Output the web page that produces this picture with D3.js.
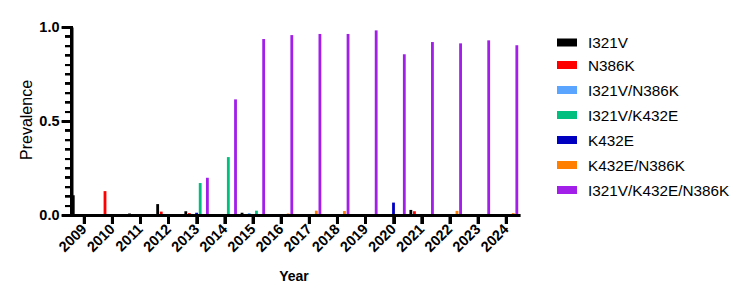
<!DOCTYPE html>
<html><head><meta charset="utf-8">
<script src="https://cdn.jsdelivr.net/npm/d3@7"></script>
<style>
html,body{margin:0;padding:0;background:#fff;}
#wrap{position:relative;width:738px;height:291px;}
#wrap svg,#wrap canvas{position:absolute;left:0;top:0;}
svg text{font-family:"Liberation Sans",Arial,sans-serif;}
</style>
</head><body>
<div id="wrap">
<svg id="chart" width="738" height="291" xmlns="http://www.w3.org/2000/svg"></svg>
<canvas id="axes" width="738" height="291"></canvas>
</div>
<script>
const years = ["2009","2010","2011","2012","2013","2014","2015","2016","2017","2018","2019","2020","2021","2022","2023","2024"];
const seriesNames = ["I321V","N386K","I321V/N386K","I321V/K432E","K432E","K432E/N386K","I321V/K432E/N386K"];
const seriesColors = ["#000000","#FF0000","#59A5FF","#00BF7F","#0000C0","#FF8000","#A11FE8"];
// order in which bars sit inside each year group
const barOrder = ["I321V","N386K","I321V/N386K","K432E","I321V/K432E","K432E/N386K","I321V/K432E/N386K"];

const valI321V       = [0.105,0,0.008,0.058,0.02,0,0.012,0,0,0,0,0,0.027,0,0,0];
const valN386K       = [0.005,0.127,0,0.018,0.01,0.003,0,0,0,0,0,0,0.02,0,0,0];
const valI321V_N386K = [0,0,0,0,0,0,0.01,0,0,0,0,0,0,0,0.005,0];
const valI321V_K432E = [0,0,0,0,0.17,0.308,0.023,0,0,0,0,0,0,0,0,0];
const valK432E       = [0,0,0,0,0.012,0,0,0,0,0,0,0.066,0,0,0,0];
const valK432E_N386K = [0,0,0,0,0,0,0,0.008,0.023,0.021,0,0,0,0.022,0.005,0.01];
const valTriple      = [0,0,0,0,0.198,0.615,0.936,0.957,0.963,0.963,0.982,0.855,0.92,0.913,0.929,0.903];
const seriesValues = [valI321V, valN386K, valI321V_N386K, valI321V_K432E, valK432E, valK432E_N386K, valTriple];

const yMajorTicks = [0, 0.5, 1.0];

const svg = d3.select("#chart");
const x0 = d3.scaleBand().domain(years).range([70, 520.1]).padding(0);
const x1 = d3.scaleBand().domain(barOrder).range([-12.6, 12.6]).paddingInner(0.22).paddingOuter(0.11);
const y = d3.scaleLinear().domain([0, 1]).range([215, 27]);
const color = d3.scaleOrdinal().domain(seriesNames).range(seriesColors);
const xc = d => x0(d) + x0.bandwidth() / 2;
const axisX = 71.5, axisY = 215;
const minorTicks = d3.range(0, 21).map(i => i * 0.05);

// SVG axes via d3 axis generators
const yMinor = svg.append("g").attr("transform", `translate(${axisX},0)`)
  .call(d3.axisLeft(y).tickValues(minorTicks).tickSize(6.5).tickSizeOuter(0).tickFormat(""));
yMinor.select(".domain").remove();
yMinor.selectAll(".tick line").attr("stroke", "#000").attr("stroke-width", 2);
const yAxis = svg.append("g").attr("transform", `translate(${axisX},0)`)
  .call(d3.axisLeft(y).tickValues(yMajorTicks).tickSize(10).tickSizeOuter(0).tickPadding(2).tickFormat(d3.format(".1f")));
yAxis.select(".domain").attr("stroke", "#000").attr("stroke-width", 3);
yAxis.selectAll(".tick line").attr("stroke", "#000").attr("stroke-width", 2.6);
yAxis.selectAll(".tick text").attr("font-size", 14.5).attr("font-weight", "bold").attr("fill", "#000")
  .attr("font-family", "Liberation Sans, Arial, sans-serif");
const xAxis = svg.append("g").attr("transform", `translate(0,${axisY})`)
  .call(d3.axisBottom(x0).tickSize(9).tickSizeOuter(0).tickFormat(""));
xAxis.select(".domain").attr("stroke", "#000").attr("stroke-width", 3);
xAxis.selectAll(".tick line").attr("stroke", "#000").attr("stroke-width", 2.6);

// bars
const data = [];
seriesNames.forEach((s, si) => {
  years.forEach((yr, yi) => data.push({series: s, year: yr, value: seriesValues[si][yi]}));
});
svg.append("g").selectAll("rect").data(data.filter(d => d.value > 0)).join("rect")
  .attr("x", d => xc(d.year) + x1(d.series))
  .attr("width", x1.bandwidth())
  .attr("y", d => y(d.value))
  .attr("height", d => y(0) - y(d.value))
  .attr("fill", d => color(d.series));

// x tick labels
svg.append("g").selectAll("text").data(years).join("text")
  .attr("transform", d => `translate(${xc(d) + 3.5},230) rotate(-45)`)
  .attr("text-anchor", "end")
  .attr("font-size", 14.5).attr("font-weight", "bold")
  .text(d => d);

// axis titles
svg.append("text").attr("transform", "translate(32,120) rotate(-90)")
  .attr("text-anchor", "middle").attr("font-size", 16).text("Prevalence");
svg.append("text").attr("x", 294).attr("y", 281)
  .attr("text-anchor", "middle").attr("font-size", 14).attr("font-weight", "bold").text("Year");

// legend
const legend = svg.append("g").selectAll("g").data(seriesNames).join("g")
  .attr("transform", (d, i) => `translate(557,${40 + i * 25 + (i === 0 ? 2.5 : 0)})`);
legend.append("rect").attr("x", 0).attr("y", -4).attr("width", 20).attr("height", 8)
  .attr("fill", d => color(d));
legend.append("text").attr("x", 31).attr("y", 0).attr("dy", "0.36em")
  .attr("font-size", 15.3).text(d => d);

// axis lines and ticks also painted on a canvas overlay, from the same D3 scales
const ctx = d3.select("#axes").node().getContext("2d");
ctx.fillStyle = "#000";
const X0 = Math.round(x0.range()[0]), X1 = Math.round(x0.range()[1]);
const Y0 = Math.round(axisY), Y1 = Math.round(y(1));
ctx.fillRect(X0, Y0 - 1, X1 - X0, 3);             // x axis
ctx.fillRect(70, Y1 - 1, 3, Y0 - Y1 + 3);          // y axis
years.forEach(d => ctx.fillRect(Math.round(xc(d)) - 1, Y0, 3, 9));
minorTicks.forEach(v => ctx.fillRect(65, Math.round(y(v)) - 1, 6, 2));
yMajorTicks.forEach(v => ctx.fillRect(62, Math.round(y(v)) - 1, 9, 3));
</script>
</body></html>
